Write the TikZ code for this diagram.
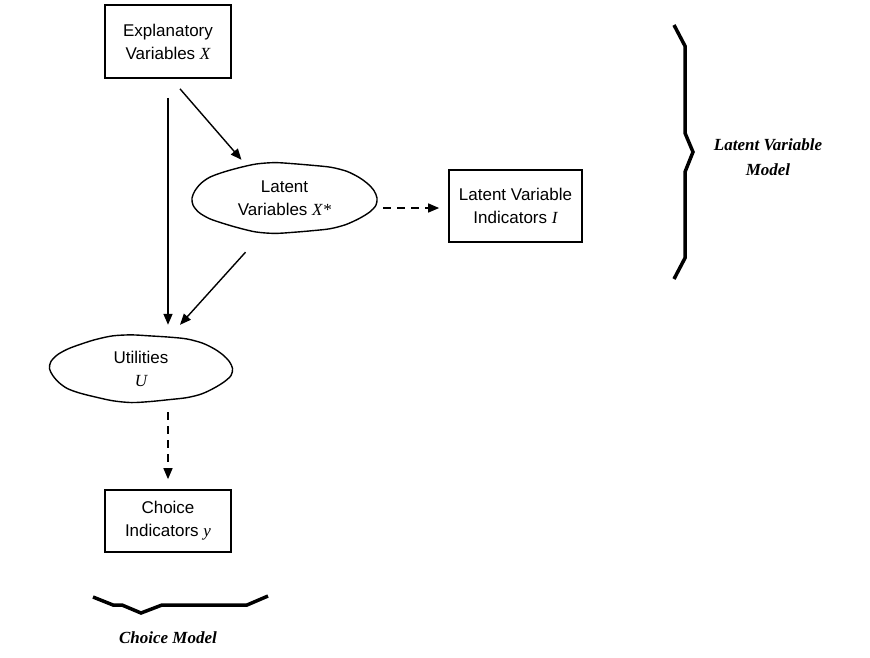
\documentclass[tikz,border=0pt]{standalone}
\usepackage{fontspec}
\setmainfont{Liberation Sans}
\newfontfamily\tmsfont{Liberation Serif}
\usetikzlibrary{arrows.meta,calc,shapes.geometric}
\newcommand\varit[1]{{\tmsfont\itshape #1}}
\begin{document}
\begin{tikzpicture}[x=1pt,y=-1pt,
 lbl/.style={font=\fontsize{17}{23}\selectfont,align=center},
 box/.style={lbl,draw,line width=1.7pt,minimum width=126pt,minimum height=73pt,inner sep=0pt},
 ell/.style={lbl,ellipse,draw=none,inner sep=0pt},
 wob/.style={line width=1.4pt},
 arr/.style={line width=1.4pt,-{Triangle[length=11pt,width=9pt]}},
 darr/.style={arr,dash pattern=on 8pt off 6pt},
 bracestyle/.style={line width=3.5pt,line join=miter},
 ttl/.style={font=\tmsfont\bfseries\itshape\fontsize{17}{25}\selectfont,align=center}]
\useasboundingbox (0,0) rectangle (870,657);
\node[box] (ex) at (168,41.5) {Explanatory\\Variables \varit{X}};
\node[ell,minimum width=185pt,minimum height=70pt] (lv) at (284.5,198) {Latent\\Variables \varit{X*}};
\node[box,minimum width=133pt,minimum height=72pt] (li) at (515.5,206) {Latent Variable\\Indicators \varit{I}};
\node[ell,minimum width=182pt,minimum height=67pt] (ut) at (141,368.5) {Utilities\\\varit{U}};
\node[box,minimum height=62pt] (ci) at (168,521) {Choice\\Indicators \varit{y}};

% hand-drawn ellipse outlines
\draw[wob,shift={(lv.center)}] plot[smooth cycle,samples=30,domain=0:348]
  ({92.5*cos(\x)*(1+0.012*sin(5*\x))},{35*sin(\x)*(1+0.025*cos(7*\x))});
\draw[wob,shift={(ut.center)}] plot[smooth cycle,samples=30,domain=0:348]
  ({91*cos(\x)*(1+0.012*sin(6*\x+30))},{33.5*sin(\x)*(1+0.025*cos(7*\x+20))});

\draw[arr] ($(ex.south)+(0,19)$) -- ($(ex.south |- ut.north)+(0,-10)$);
\draw[arr] ($(ex.south)+(12,10)$) -- ($(lv.north)+(-43,-3)$);
\draw[darr] ($(lv.east)+(6,10)$) -- ($(li.west)+(-9,2)$);
\draw[arr] ($(lv.south)+(-39,19)$) -- ($(ut.north)+(39,-10)$);
\draw[darr] ($(ut.south)+(27,10)$) -- ($(ci.north)+(0,-10)$);

\draw[bracestyle] (674,25) -- (685,46) -- (685,133) -- (693,152) -- (685,172) -- (685,258) -- (674,279);
\draw[bracestyle] (93,597) -- (113,605) -- (122,605) -- (141,613) -- (162,605) -- (247,605) -- (268,596);

\node[ttl] (lvm) at (768,157) {Latent Variable\\Model};
\node[ttl] (cm) at (168,638) {Choice Model};
\end{tikzpicture}
\end{document}
